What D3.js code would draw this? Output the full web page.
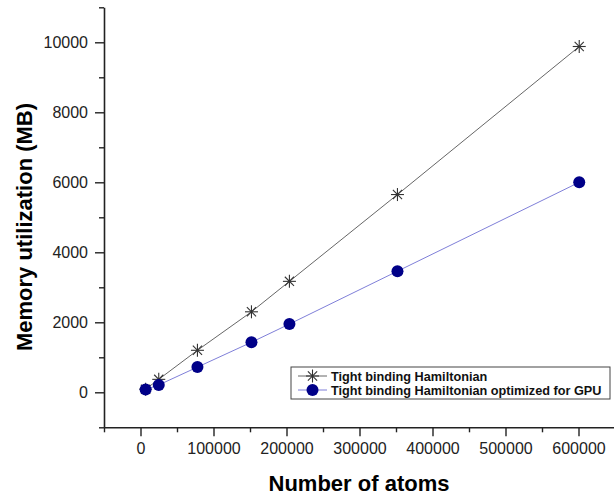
<!DOCTYPE html>
<html>
<head>
<meta charset="utf-8">
<script src="https://cdn.jsdelivr.net/npm/d3@7"></script>
<style>
  body { margin: 0; background: white; }
  svg { font-family: "Liberation Sans", Arial, sans-serif; }
</style>
</head>
<body>
<script>
const atoms = [7000, 25000, 78000, 152000, 204000, 352000, 601000];
const tightBinding = [90, 370, 1200, 2300, 3170, 5650, 9880];
const tightBindingGpu = [80, 210, 720, 1430, 1950, 3460, 6000];
const seriesNames = ['Tight binding Hamiltonian', 'Tight binding Hamiltonian optimized for GPU'];
const xTicks = [0, 100000, 200000, 300000, 400000, 500000, 600000];
const yTicks = [0, 2000, 4000, 6000, 8000, 10000];

const width = 614;
const height = 497;

const x = d3.scaleLinear().domain([-50000, 650000]).range([104, 615]);
const y = d3.scaleLinear().domain([-1000, 11000]).range([427.3, 7.3]);

const svg = d3.select('body').append('svg')
  .attr('width', width)
  .attr('height', height);

// minor ticks first, majors drawn on top
const xMinor = d3.range(-50000, 650001, 50000).filter(v => !xTicks.includes(v));
const yMinor = d3.range(-1000, 11001, 1000).filter(v => !yTicks.includes(v));

const xAxis = svg.append('g')
  .attr('transform', `translate(0,${y(-1000)})`);
xAxis.append('g')
  .call(d3.axisBottom(x).tickValues(xMinor).tickSize(5).tickFormat(''))
  .call(g => g.select('.domain').remove());
xAxis.append('g')
  .call(d3.axisBottom(x).tickValues(xTicks).tickSize(9).tickSizeOuter(0)
    .tickPadding(6.5).tickFormat(d3.format('d')))
  .call(g => g.select('.domain').attr('stroke-width', 1.6).attr('stroke', '#222'));

const yAxis = svg.append('g')
  .attr('transform', `translate(${x(-50000)},0)`);
yAxis.append('g')
  .call(d3.axisLeft(y).tickValues(yMinor).tickSize(5).tickFormat(''))
  .call(g => g.select('.domain').remove());
yAxis.append('g')
  .call(d3.axisLeft(y).tickValues(yTicks).tickSize(9).tickSizeOuter(0)
    .tickPadding(7).tickFormat(d3.format('d')))
  .call(g => g.select('.domain').attr('stroke-width', 1.6).attr('stroke', '#222'));

svg.selectAll('.tick line').attr('stroke', '#222').attr('stroke-width', 1.4);
svg.selectAll('.tick text')
  .attr('font-size', 16)
  .attr('font-family', '"Liberation Sans", Arial, sans-serif')
  .attr('fill', '#222');

// axis titles
svg.append('text')
  .attr('x', 359)
  .attr('y', 491)
  .attr('text-anchor', 'middle')
  .attr('font-size', 22)
  .attr('font-weight', 'bold')
  .text('Number of atoms');

svg.append('text')
  .attr('transform', 'translate(31.5,227) rotate(-90)')
  .attr('text-anchor', 'middle')
  .attr('font-size', 22)
  .attr('font-weight', 'bold')
  .text('Memory utilization (MB)');

const line = d3.line()
  .x(d => x(d[0]))
  .y(d => y(d[1]));

const ptsTB = atoms.map((a, i) => [a, tightBinding[i]]);
const ptsGpu = atoms.map((a, i) => [a, tightBindingGpu[i]]);

function star(g, cx, cy, r) {
  const s = g.append('g')
    .attr('transform', `translate(${cx},${cy})`)
    .attr('stroke', '#333')
    .attr('stroke-width', 1.1);
  [0, 45, 90, 135].forEach(a => {
    const rad = a * Math.PI / 180;
    s.append('line')
      .attr('x1', -r * Math.cos(rad)).attr('y1', -r * Math.sin(rad))
      .attr('x2', r * Math.cos(rad)).attr('y2', r * Math.sin(rad));
  });
}

svg.append('path')
  .datum(ptsTB)
  .attr('fill', 'none')
  .attr('stroke', '#555')
  .attr('stroke-width', 0.9)
  .attr('d', line);

svg.append('path')
  .datum(ptsGpu)
  .attr('fill', 'none')
  .attr('stroke', '#7070d4')
  .attr('stroke-width', 0.9)
  .attr('d', line);

const starLayer = svg.append('g');
ptsTB.forEach(d => star(starLayer, x(d[0]), y(d[1]), 6.5));

svg.append('g')
  .selectAll('circle')
  .data(ptsGpu)
  .join('circle')
    .attr('cx', d => x(d[0]))
    .attr('cy', d => y(d[1]))
    .attr('r', 6)
    .attr('fill', '#000088');

// legend
const legend = svg.append('g');
legend.append('rect')
  .attr('x', 291)
  .attr('y', 367)
  .attr('width', 319)
  .attr('height', 32)
  .attr('fill', 'white')
  .attr('stroke', '#444')
  .attr('stroke-width', 1);

const rows = [376, 390];
legend.append('line')
  .attr('x1', 298).attr('x2', 327)
  .attr('y1', rows[0]).attr('y2', rows[0])
  .attr('stroke', '#555').attr('stroke-width', 0.9);
star(legend, 312.5, rows[0], 6.5);

legend.append('line')
  .attr('x1', 298).attr('x2', 327)
  .attr('y1', rows[1]).attr('y2', rows[1])
  .attr('stroke', '#7070d4').attr('stroke-width', 0.9);
legend.append('circle')
  .attr('cx', 312.5).attr('cy', rows[1]).attr('r', 6)
  .attr('fill', '#000088');

legend.selectAll('text.lbl')
  .data(seriesNames)
  .join('text')
    .attr('class', 'lbl')
    .attr('x', 331)
    .attr('y', (d, i) => rows[i] + 4.5)
    .attr('font-size', 12.7)
    .attr('font-weight', 'bold')
    .attr('fill', '#111')
    .text(d => d);
</script>
</body>
</html>
